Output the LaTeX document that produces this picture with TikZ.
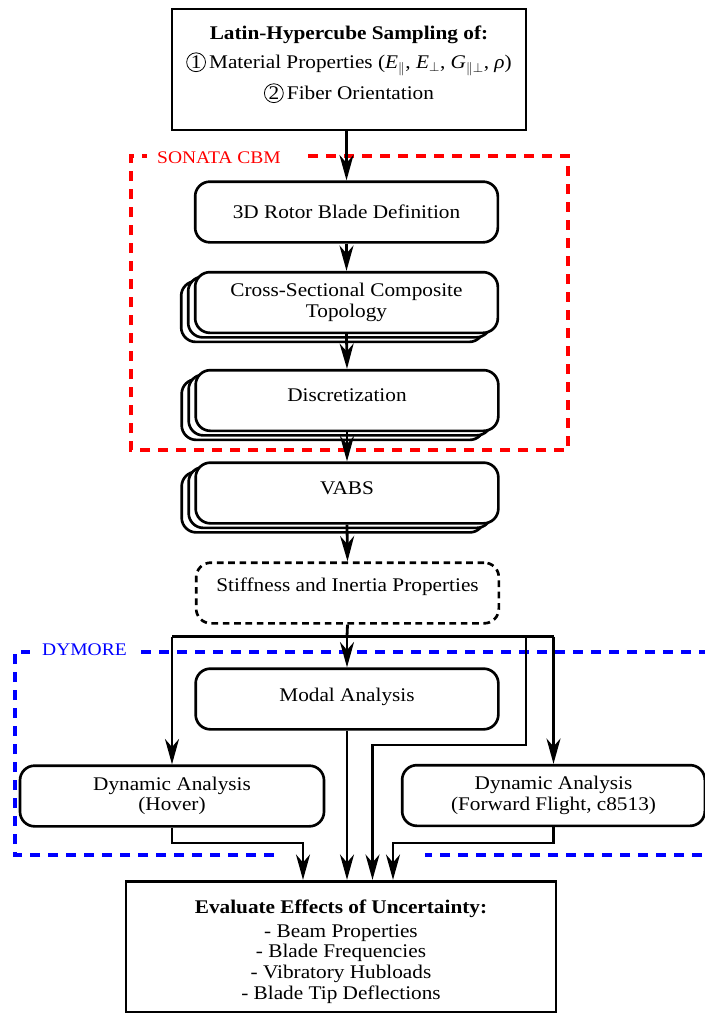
\documentclass[tikz,border=0pt]{standalone}
\usepackage{fontspec}
\setmainfont{Liberation Serif}[FakeStretch=1.1]
\usetikzlibrary{arrows.meta,shadows}
\newcommand\circnum[1]{\tikz[x=1cm,y=1cm,baseline=(cn.base)]\node[draw,circle,inner sep=0.6pt,line width=0.6pt,
  minimum width=0pt,minimum height=0pt,fill=none,text height=,text depth=,align=center,
  font=\fontsize{14.5}{15}\selectfont](cn){#1};}
\tikzset{
  base/.style={draw, line width=2pt, fill=white, align=center, inner sep=2pt,
    font=\fontsize{14.5}{15.5}\selectfont},
  rbox/.style={base, rounded corners=11pt, minimum width=227pt, minimum height=45.5pt},
  stackbox/.style={rbox,
    general shadow={shadow xshift=-10.5pt, shadow yshift=-6.8pt, draw, line width=2pt, fill=white},
    general shadow={shadow xshift=-5.25pt, shadow yshift=-3.4pt, draw, line width=2pt, fill=white}},
  arr/.style={line width=2.1pt, -{Stealth[length=19pt,width=10.5pt,inset=6pt]}},
  conn/.style={line width=2.1pt},
  grp/.style={line width=2.6pt, dash pattern=on 7.5pt off 6pt},
  grplabel/.style={font=\fontsize{13.3}{15}\selectfont, inner sep=0pt}
}
\begin{document}
\begin{tikzpicture}[x=0.75pt,y=-0.75pt]
\useasboundingbox (0,0) rectangle (705,1015);
% groups
\draw[grp, red] (308,156) -- (568,156) -- (568,450) -- (131,450) -- (131,156) -- (147,156);
\node[grplabel, text=red] (sonata) at (219,158) {SONATA CBM};
\draw[grp, blue] (141,652) -- (720,652);
\draw[grp, blue] (720,855) -- (425,855);
\draw[grp, blue] (274,855) -- (15,855) -- (15,652) -- (30,652);
\node[grplabel, text=blue] (dymore) at (84.5,650) {DYMORE};
% nodes
\node[base, minimum width=265.5pt, minimum height=90.75pt] (top) at (349,69.5)
 {{\bfseries Latin-Hypercube Sampling of:}\\[6pt]
  \circnum{1}\,Material Properties (\textit{E}$_{\parallel}$, \textit{E}$_{\perp}$, \textit{G}$_{\parallel\perp}$, \textit{ρ})\\[5pt]
  \circnum{2}\,Fiber Orientation\\[-5.7pt]\mbox{}};
\node[rbox] (rotor) at (346.5,212) {3D Rotor Blade Definition};
\node[stackbox] (cross) at (346.5,302.5) {Cross-Sectional Composite\\Topology};
\node[stackbox, text height=10pt, text depth=8pt] (disc) at (347,400.5) {Discretization};
\node[stackbox, text height=10pt, text depth=7.7pt] (vabs) at (347,493) {VABS};
\node[rbox, dashed, dash pattern=on 5pt off 3.5pt, text height=10pt, text depth=12pt] (stiff) at (347.5,593) {Stiffness and Inertia Properties};
\node[rbox, text height=10pt, text depth=6.2pt] (modal) at (347,699) {Modal Analysis};
\node[rbox, minimum width=228pt] (hover) at (172,796) {Dynamic Analysis\\(Hover)};
\node[rbox] (fwd) at (553.5,795.5) {Dynamic Analysis\\(Forward Flight, c8513)};
\node[base, minimum width=322.5pt, minimum height=98pt] (eval) at (341,946.5)
 {\rule{0pt}{18pt}{\bfseries Evaluate Effects of Uncertainty:}\\[2pt]
  - Beam Properties\\ - Blade Frequencies\\ - Vibratory Hubloads\\ - Blade Tip Deflections};
% coordinates
\coordinate (split) at (347,636.5);
\coordinate (j1) at (526,636.5);
\coordinate (j2) at (526,745);
\coordinate (j3) at (372.5,745);
\coordinate (h1) at (303,843);
\coordinate (f1) at (393,843);
% connectors
\draw[arr] (top.south -| rotor.north) -- (rotor.north);
\draw[arr] (rotor) -- (cross.north);
\draw[arr] (cross.south) -- (disc.north);
\draw[arr] (disc.south) -- (vabs.north);
\draw[arr] (vabs.south) -- (stiff.north);
\draw[conn] (stiff.south) -- (split);
\draw[conn] (split -| hover.north) -- (split -| fwd.north);
\draw[arr] (split) -- (modal.north);
\draw[arr] (split -| hover.north) -- (hover.north);
\draw[arr] (split -| fwd.north) -- (fwd.north);
\draw[arr] (j1) -- (j2) -- (j3) -- (j3 |- eval.north);
\draw[arr] (modal.south) -- (modal.south |- eval.north);
\draw[arr] (hover.south) |- (h1) -- (h1 |- eval.north);
\draw[arr] (fwd.south) |- (f1) -- (f1 |- eval.north);
\end{tikzpicture}
\end{document}
